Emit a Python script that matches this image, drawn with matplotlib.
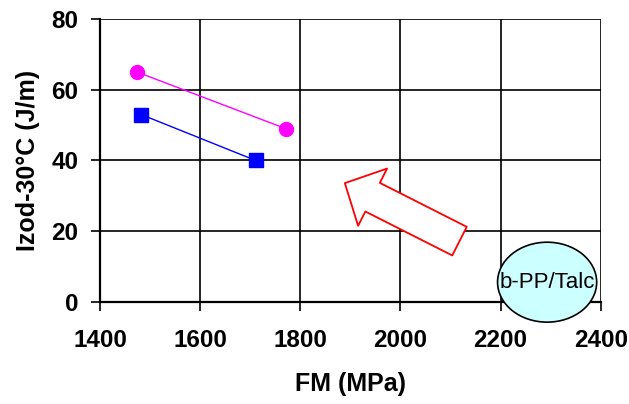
import matplotlib
matplotlib.use("Agg")
import matplotlib.pyplot as plt
from matplotlib.patches import Ellipse, FancyArrowPatch

plt.rcParams["font.family"] = ["Liberation Sans", "DejaVu Sans"]

# data
fm_circle = [1474, 1771]
izod_circle = [65, 49]
fm_square = [1482, 1711]
izod_square = [53, 40]
x_ticks = [1400, 1600, 1800, 2000, 2200, 2400]
y_ticks = [0, 20, 40, 60, 80]

fig = plt.figure(figsize=(6.29, 4.04), dpi=100)
ax = fig.add_axes([0.159, 0.2525, 0.796, 0.7005])

ax.plot(fm_circle, izod_circle, color="#FF00FF", marker="o", markersize=10, linewidth=1, zorder=3)
ax.plot(fm_square, izod_square, color="#0000FF", marker="s", markersize=10, linewidth=1, zorder=3)

ax.set_xlim(1400, 2400)
ax.set_ylim(0, 80)
ax.set_xticks(x_ticks)
ax.set_yticks(y_ticks)
ax.grid(True, color="black", linewidth=1.2)
for s in ["top", "right"]:
    ax.spines[s].set_visible(False)
ax.spines["left"].set_linewidth(1.6)
ax.spines["bottom"].set_linewidth(1.6)
ax.tick_params(direction="out", length=6.5, width=1.2, labelsize=17.5)
ax.tick_params(axis="x", pad=13)
ax.tick_params(axis="y", pad=9)
for lab in ax.get_xticklabels() + ax.get_yticklabels():
    lab.set_fontweight("bold")

ax.set_xlabel("FM (MPa)", fontsize=18, fontweight="bold", labelpad=14)
ax.set_ylabel("Izod-30°C (J/m)", fontsize=18, fontweight="bold", labelpad=8)

# hollow arrow pointing to upper left
arrow = FancyArrowPatch((2118, 17.2), (1889, 33.6),
                        arrowstyle="simple,head_length=1.6,head_width=3.3,tail_width=1.65",
                        mutation_scale=14, shrinkA=0, shrinkB=0,
                        facecolor="white", edgecolor="red",
                        linewidth=1.3, zorder=4)
ax.add_patch(arrow)

ell = Ellipse((2293, 5.6), 198, 22.6, facecolor="#CCFFFF", edgecolor="black",
              linewidth=1.2, clip_on=False, zorder=5)
ax.add_patch(ell)
ax.text(2293, 5.6, "b-PP/Talc", ha="center", va="center", fontsize=16, zorder=6)

fig.savefig("out.png", dpi=100)
